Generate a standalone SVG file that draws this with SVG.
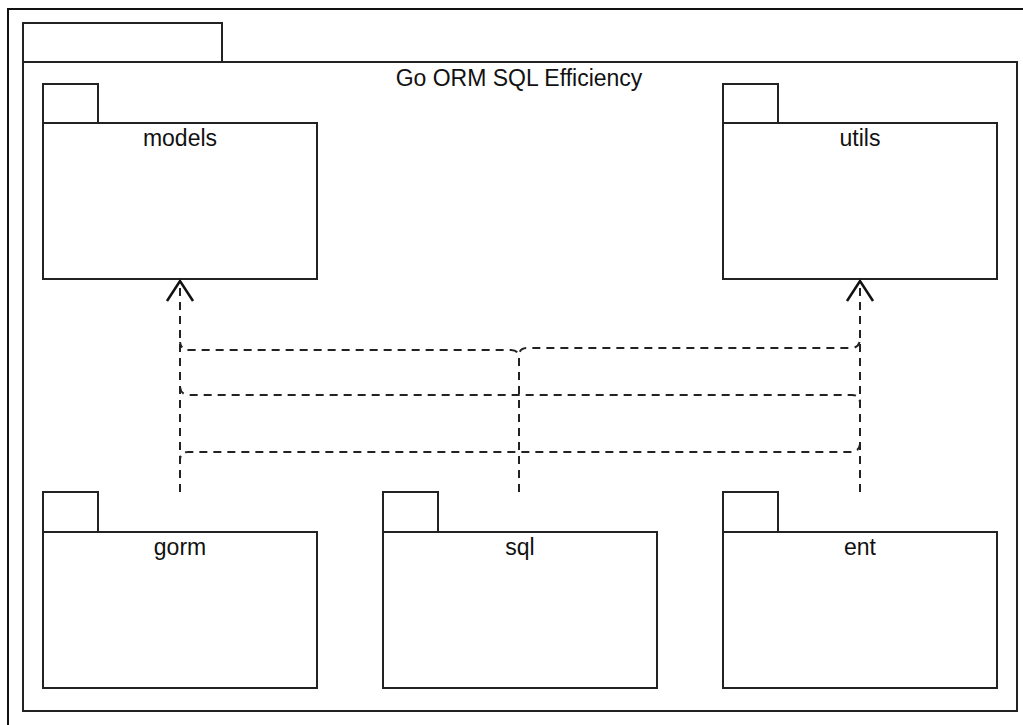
<svg xmlns="http://www.w3.org/2000/svg" width="1023" height="725" viewBox="0 0 1023 725">
<style>
.box{fill:#fff;stroke:#222;stroke-width:2}
.lbl{font-family:"Liberation Sans",Arial,sans-serif;font-size:23px;fill:#111;text-anchor:middle}
.dep{fill:none;stroke:#222;stroke-width:2;stroke-dasharray:8 6}
</style>
<defs>
<marker id="open" viewBox="-24 -16 26 32" markerWidth="26" markerHeight="32" refX="0" refY="0" orient="auto" markerUnits="userSpaceOnUse">
<path d="M-20,-13 L0,0 L-20,13" fill="none" stroke="#111" stroke-width="2.5" stroke-dasharray="none"/>
</marker>
</defs>
<rect x="0" y="0" width="1023" height="725" fill="#fff"/>
<rect x="8" y="9" width="1040" height="740" fill="none" stroke="#111" stroke-width="2"/>
<g id="pkg-main">
<rect class="box" x="23" y="23" width="199" height="39"/>
<rect class="box" x="23" y="62" width="994" height="649"/>
<text class="lbl" x="519" y="86">Go ORM SQL Efficiency</text>
</g>
<g id="models">
<rect class="box" x="43" y="84" width="55" height="39"/>
<rect class="box" x="43" y="123" width="274" height="156"/>
<text class="lbl" x="180" y="146">models</text>
</g>
<g id="utils">
<rect class="box" x="723" y="84" width="55" height="39"/>
<rect class="box" x="723" y="123" width="274" height="156"/>
<text class="lbl" x="860" y="146">utils</text>
</g>
<g id="gorm">
<rect class="box" x="43" y="492" width="55" height="40"/>
<rect class="box" x="43" y="532" width="274" height="156"/>
<text class="lbl" x="180" y="555">gorm</text>
</g>
<g id="sql">
<rect class="box" x="383" y="492" width="55" height="40"/>
<rect class="box" x="383" y="532" width="274" height="156"/>
<text class="lbl" x="520" y="555">sql</text>
</g>
<g id="ent">
<rect class="box" x="723" y="492" width="55" height="40"/>
<rect class="box" x="723" y="532" width="274" height="156"/>
<text class="lbl" x="860" y="555">ent</text>
</g>
<g id="connectors">
<path class="dep" d="M180,492 V281" marker-end="url(#open)"/>
<path class="dep" d="M860,492 V281" marker-end="url(#open)"/>
<path class="dep" d="M519,492 V358 Q519,350 511,350 H189 Q181,350 180,342"/>
<path class="dep" d="M519,492 V356 Q519,348 527,348 H851 Q859,348 860,340"/>
<path class="dep" d="M180,492 V460 Q180,452 188,452 H851 Q859,452 860,444"/>
<path class="dep" d="M860,492 V403 Q860,395 852,395 H189 Q181,395 180,387"/>
</g>
</svg>
